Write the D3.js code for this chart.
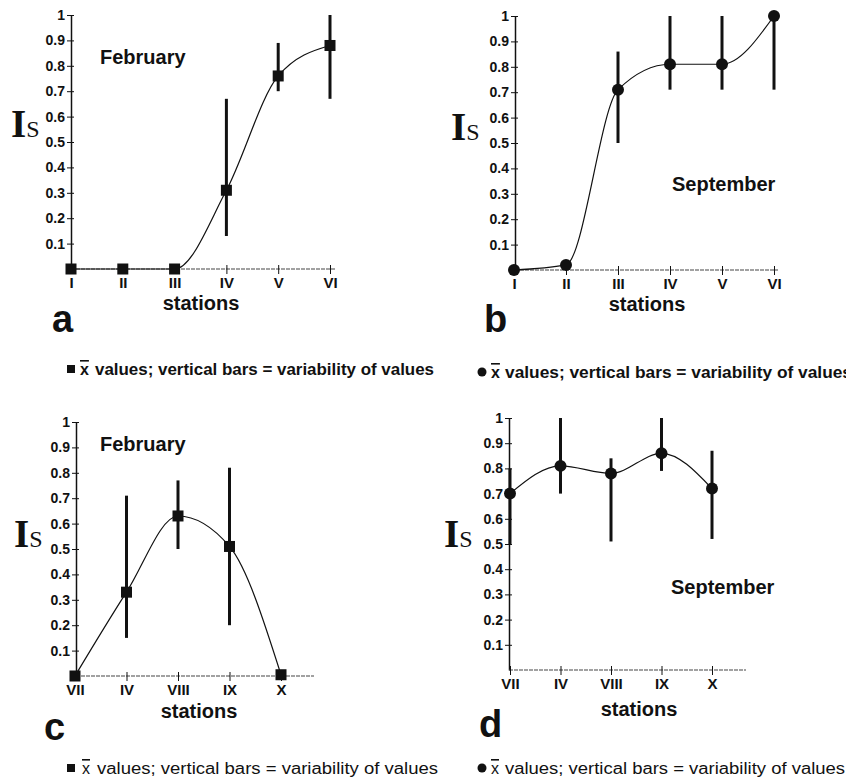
<!DOCTYPE html>
<html>
<head>
<meta charset="utf-8">
<script src="https://cdn.jsdelivr.net/npm/d3@7"></script>
<style>
  body { margin: 0; background: #fff; }
  svg text { font-family: "Liberation Sans", Arial, sans-serif; fill: #111; }
  .tick text { font-weight: bold; font-size: 14px; }
  .axis path, .axis line { stroke: #111; }
</style>
</head>
<body>
<div id="chart"></div>
<script>
// station names
const stationsTop = ['I', 'II', 'III', 'IV', 'V', 'VI'];
const stationsBottom = ['VII', 'IV', 'VIII', 'IX', 'X'];
const yTicks = [0.1, 0.2, 0.3, 0.4, 0.5, 0.6, 0.7, 0.8, 0.9, 1];

// a: February, stations I-VI
const febTopMean = [0, 0, 0, 0.31, 0.76, 0.88];
const febTopLow  = [null, null, null, 0.13, 0.70, 0.67];
const febTopHigh = [null, null, null, 0.67, 0.89, 1.0];

// b: September, stations I-VI
const sepTopMean = [0, 0.02, 0.71, 0.81, 0.81, 1.0];
const sepTopLow  = [null, null, 0.50, 0.71, 0.71, 0.71];
const sepTopHigh = [null, null, 0.86, 1.0, 1.0, 1.0];

// c: February, stations VII-X
const febBottomMean = [0, 0.33, 0.63, 0.51, 0.005];
const febBottomLow  = [null, 0.15, 0.50, 0.20, null];
const febBottomHigh = [null, 0.71, 0.77, 0.82, null];

// d: September, stations VII-X
const sepBottomMean = [0.70, 0.81, 0.78, 0.86, 0.72];
const sepBottomLow  = [0.50, 0.70, 0.51, 0.79, 0.52];
const sepBottomHigh = [0.80, 1.0, 0.84, 1.0, 0.87];

const legendText = 'values; vertical bars = variability of values';

const svg = d3.select('#chart').append('svg')
    .attr('width', 846)
    .attr('height', 784);

const panels = [
  {letter: 'a', stations: stationsTop, mean: febTopMean, low: febTopLow, high: febTopHigh,
   marker: 'square', month: 'February', monthPos: [100, 64],
   axisX: 71, left: 71, step: 51.8, y0: 269, y1: 15, xEnd: 336,
   letterPos: [52, 332], stationsPos: [201, 310], isPos: [11, 137]},
  {letter: 'b', stations: stationsTop, mean: sepTopMean, low: sepTopLow, high: sepTopHigh,
   marker: 'circle', month: 'September', monthPos: [672, 191],
   axisX: 515, left: 514, step: 52, y0: 270, y1: 16, xEnd: 778,
   letterPos: [484, 332], stationsPos: [647, 311], isPos: [451, 140]},
  {letter: 'c', stations: stationsBottom, mean: febBottomMean, low: febBottomLow, high: febBottomHigh,
   marker: 'square', month: 'February', monthPos: [100, 451],
   axisX: 76, left: 75, step: 51.5, y0: 676, y1: 422, xEnd: 314,
   letterPos: [44, 740], stationsPos: [199, 718], isPos: [14, 547]},
  {letter: 'd', stations: stationsBottom, mean: sepBottomMean, low: sepBottomLow, high: sepBottomHigh,
   marker: 'circle', month: 'September', monthPos: [671, 594],
   axisX: 509, left: 510, step: 50.5, y0: 670, y1: 418, xEnd: 746,
   letterPos: [479, 737], stationsPos: [639, 716], isPos: [444, 547]}
];

panels.forEach(drawPanel);

function drawPanel(p) {
  const n = p.stations.length;
  const x = d3.scalePoint().domain(d3.range(n)).range([p.left, p.left + p.step * (n - 1)]);
  const y = d3.scaleLinear().domain([0, 1]).range([p.y0, p.y1]);
  const g = svg.append('g').attr('class', 'panel-' + p.letter);

  // y axis, ticks crossing the line
  const yAxisG = g.append('g')
      .attr('class', 'axis y-axis')
      .attr('transform', `translate(${p.axisX},0)`)
      .call(d3.axisLeft(y).tickValues(yTicks).tickSizeOuter(0)
        .tickFormat(d => d === 1 ? '1' : d3.format('.1f')(d)));
  yAxisG.select('.domain').attr('stroke-width', 1.5);
  yAxisG.selectAll('.tick line').attr('x1', 3).attr('x2', -4);
  yAxisG.selectAll('.tick text').attr('x', -6);

  // x axis: thin line running past the last station
  g.append('line')
      .attr('x1', p.axisX).attr('x2', p.xEnd)
      .attr('y1', y(0)).attr('y2', y(0))
      .attr('stroke', '#444').attr('stroke-width', 1.1)
      .attr('stroke-dasharray', '4,1');

  const xAxisG = g.append('g')
      .attr('class', 'axis x-axis')
      .attr('transform', `translate(0,${y(0)})`)
      .call(d3.axisBottom(x).tickSize(5).tickSizeOuter(0).tickFormat(i => p.stations[i]));
  xAxisG.select('.domain').remove();
  xAxisG.selectAll('.tick line').attr('y1', -4).attr('y2', 5);
  xAxisG.selectAll('.tick text').attr('y', 8).style('font-size', '15px');

  // smooth line through the means
  const line = d3.line()
      .x((d, i) => x(i))
      .y(d => y(d))
      .curve(d3.curveMonotoneX);
  g.append('path')
      .datum(p.mean)
      .attr('fill', 'none')
      .attr('stroke', '#111')
      .attr('stroke-width', 1.2)
      .attr('d', line);

  // variability bars
  const bars = d3.range(n).filter(i => p.low[i] !== null);
  g.selectAll('.vbar')
    .data(bars)
    .join('line')
      .attr('class', 'vbar')
      .attr('x1', i => x(i)).attr('x2', i => x(i))
      .attr('y1', i => y(p.low[i])).attr('y2', i => y(p.high[i]))
      .attr('stroke', '#111')
      .attr('stroke-width', 3);

  // markers
  if (p.marker === 'square') {
    g.selectAll('.pt')
      .data(p.mean)
      .join('rect')
        .attr('class', 'pt')
        .attr('x', (d, i) => x(i) - 5.5)
        .attr('y', d => y(d) - 5.5)
        .attr('width', 11).attr('height', 11)
        .attr('fill', '#111');
  } else {
    g.selectAll('.pt')
      .data(p.mean)
      .join('circle')
        .attr('class', 'pt')
        .attr('cx', (d, i) => x(i))
        .attr('cy', d => y(d))
        .attr('r', 6)
        .attr('fill', '#111');
  }

  // texts
  g.append('text')
      .attr('x', p.monthPos[0]).attr('y', p.monthPos[1])
      .style('font-size', '20px').style('font-weight', 'bold')
      .text(p.month);

  g.append('text')
      .attr('x', p.stationsPos[0]).attr('y', p.stationsPos[1])
      .attr('text-anchor', 'middle')
      .style('font-size', '20px').style('font-weight', 'bold')
      .text('stations');

  g.append('text')
      .attr('x', p.letterPos[0]).attr('y', p.letterPos[1])
      .style('font-size', '38px').style('font-weight', 'bold')
      .text(p.letter);

  const isLabel = g.append('text')
      .attr('x', p.isPos[0]).attr('y', p.isPos[1])
      .style('font-family', '"Liberation Serif", "Times New Roman", serif');
  isLabel.append('tspan')
      .style('font-size', '39px').style('font-weight', 'bold')
      .text('I');
  isLabel.append('tspan')
      .style('font-size', '24px')
      .text('S');
}

// legends under each panel
const legends = [
  {marker: 'square', x: 67, y: 375, xbarX: 80, textX: 95, textEnd: 434, weight: 'bold'},
  {marker: 'circle', x: 478, y: 378, xbarX: 491, textX: 505, textEnd: 852, weight: 'bold'},
  {marker: 'square', x: 67, y: 774, xbarX: 82, textX: 97, textEnd: 438, weight: 'normal'},
  {marker: 'circle', x: 478, y: 774, xbarX: 491, textX: 505, textEnd: 845, weight: 'normal'}
];

legends.forEach(l => {
  const lg = svg.append('g').attr('class', 'legend');
  if (l.marker === 'square') {
    lg.append('rect').attr('x', l.x).attr('y', l.y - 10).attr('width', 8).attr('height', 8).attr('fill', '#111');
  } else {
    lg.append('circle').attr('cx', l.x + 4).attr('cy', l.y - 6).attr('r', 4.5).attr('fill', '#111');
  }
  lg.append('text')
      .attr('x', l.xbarX).attr('y', l.y)
      .style('font-size', '16px')
      .style('font-weight', l.weight)
      .style('text-decoration', 'overline')
      .text('x');
  lg.append('text')
      .attr('x', l.textX).attr('y', l.y)
      .attr('textLength', l.textEnd - l.textX)
      .attr('lengthAdjust', 'spacingAndGlyphs')
      .style('font-size', '16px')
      .style('font-weight', l.weight)
      .text(legendText);
});
</script>
</body>
</html>
